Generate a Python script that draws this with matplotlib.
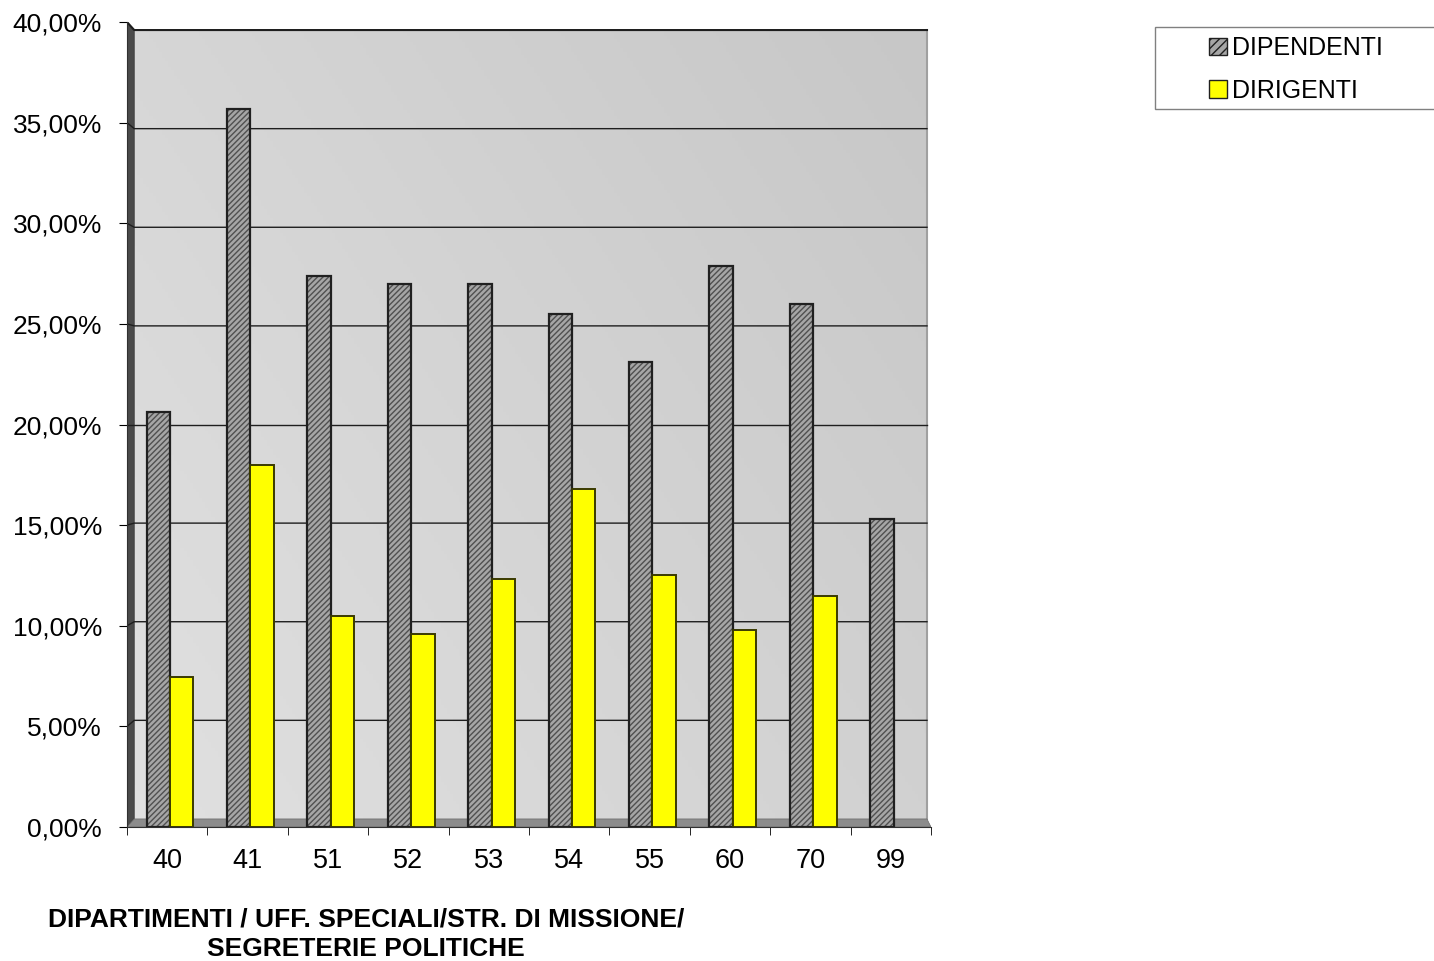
import numpy as np
import matplotlib.pyplot as plt
from matplotlib.patches import Rectangle, Patch, Polygon
from matplotlib.ticker import FuncFormatter

plt.rcParams['font.family'] = ['Liberation Sans', 'DejaVu Sans']

categories = ['40', '41', '51', '52', '53', '54', '55', '60', '70', '99']
dipendenti = [20.6, 35.7, 27.4, 27.0, 27.0, 25.5, 23.1, 27.9, 26.0, 15.3]
dirigenti = [7.45, 18.0, 10.5, 9.6, 12.3, 16.8, 12.5, 9.8, 11.5, 0.0]

fig = plt.figure(figsize=(14.34, 9.61), dpi=100)
ax = fig.add_axes([127/1434, 1 - 827/961, 804/1434, 805/961])

x = np.arange(len(categories)) + 0.035
w = 0.29
wall_x0, wall_x1 = -0.41, 9.45


def back(v):
    # value on the back wall (pseudo 3D perspective)
    return 0.4 + v * 0.98


# back wall gradient
grad = np.linspace(0, 1, 256)
gx, gy = np.meshgrid(grad, grad)
g = 0.88 - 0.10 * (0.6 * gx + 0.4 * (1 - gy))
ax.imshow(np.dstack([g, g, g]), extent=[wall_x0, wall_x1, back(0), back(40)], aspect='auto',
          origin='upper', zorder=0)
ax.plot([wall_x1, wall_x1], [back(0), back(40)], color='#a0a0a0', lw=1.5, zorder=0.5)
# left wall and floor
ax.add_patch(Polygon([(-0.5, 0), (-0.5, 40), (wall_x0, back(40)), (wall_x0, back(0))],
                     closed=True, facecolor='#4a4a4a', edgecolor='#303030', lw=0.5, zorder=1))
ax.add_patch(Polygon([(-0.5, 0), (wall_x0, back(0)), (wall_x1, back(0)), (9.5, 0)],
                     closed=True, facecolor='#8c8c8c', edgecolor='#6a6a6a', lw=0.5, zorder=1))

# gridlines on back wall, with slanted part on the side wall
for yv in np.arange(5, 41, 5):
    ax.plot([-0.5, wall_x0, wall_x1], [yv, back(yv), back(yv)], color='#1e1e1e',
            lw=1.0 if yv < 40 else 1.5, zorder=1.5)

# DIPENDENTI: hatched grey
ax.bar(x - w / 2, dipendenti, w, color='#a6a6a6', edgecolor='#505050', hatch='//////',
       linewidth=0, zorder=2)
ax.bar(x - w / 2, dipendenti, w, fill=False, edgecolor='#202020', linewidth=1.6, zorder=3)
# DIRIGENTI: yellow (zero values not drawn)
dir_plot = np.where(np.array(dirigenti) > 0, dirigenti, np.nan)
ax.bar(x + w / 2, dir_plot, w, color='#ffff00', edgecolor='#3a3a00', linewidth=1.4, zorder=3)

ax.set_xlim(-0.5, 9.5)
ax.set_ylim(0, 40)
ax.set_yticks(np.arange(0, 41, 5))
ax.yaxis.set_major_formatter(FuncFormatter(lambda v, p: f'{v:.2f}%'.replace('.', ',')))
ax.set_xticks(np.arange(len(categories)))
ax.set_xticklabels(categories)
ax.set_xticks(np.arange(-0.5, 10, 1), minor=True)
ax.tick_params(axis='x', which='major', length=0, labelsize=19.5, pad=15)
ax.tick_params(axis='x', which='minor', length=6, direction='out')
ax.tick_params(axis='y', labelsize=19, length=6, pad=12)

for s in ['top', 'right']:
    ax.spines[s].set_visible(False)
ax.spines['left'].set_color('#303030')
ax.spines['bottom'].set_color('#303030')

fig.text(366/1434, 1 - 934/961, 'DIPARTIMENTI / UFF. SPECIALI/STR. DI MISSIONE/\nSEGRETERIE POLITICHE',
         ha='center', va='center', fontsize=19, fontweight='bold', linespacing=1.3)

# legend frame running off the right edge
fig.patches.append(Rectangle((1155/1434, 1 - 109/961), 300/1434, 82/961,
                             transform=fig.transFigure, facecolor='white',
                             edgecolor='#808080', lw=1.0, zorder=0))
handles = [Patch(facecolor='#a6a6a6', edgecolor='#202020', hatch='////', label='DIPENDENTI'),
           Patch(facecolor='#ffff00', edgecolor='#202020', label='DIRIGENTI')]
leg = fig.legend(handles=handles, loc='upper left', bbox_to_anchor=(1209/1434, 1 - 36/961),
                 fontsize=18, frameon=False,
                 handlelength=0.7, handleheight=0.7, handletextpad=0.2,
                 borderpad=0, labelspacing=0.75, borderaxespad=0)

fig.savefig('out.png', dpi=100)
